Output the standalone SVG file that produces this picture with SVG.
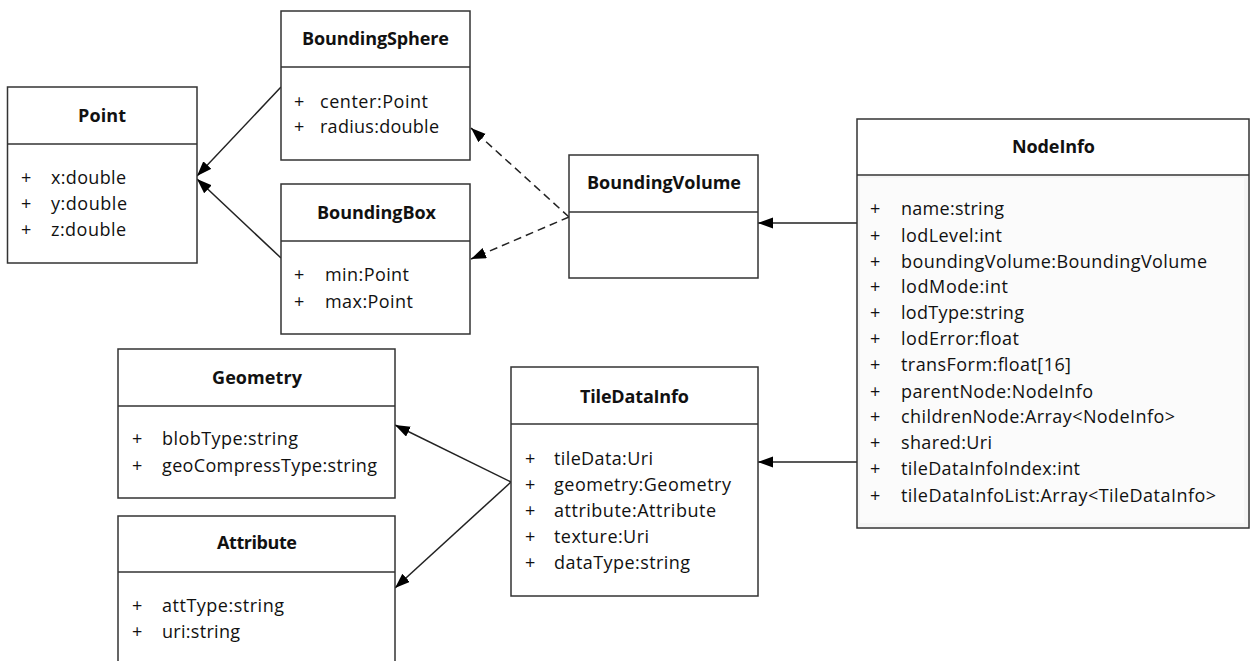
<svg xmlns="http://www.w3.org/2000/svg" width="1250" height="661" viewBox="0 0 1250 661">
<style>
.box{fill:#fff;stroke:#333;stroke-width:1.5}
.div{stroke:#333;stroke-width:1.5}
.t{font-family:"Open Sans","Liberation Sans",sans-serif;font-size:18px;font-weight:bold;fill:#111;text-anchor:middle}
.a{font-family:"Open Sans","Liberation Sans",sans-serif;font-size:18px;fill:#111}
.c{fill:none;stroke:#222;stroke-width:1.5}
.d{stroke-dasharray:8,5}
</style>
<defs>
<marker id="ah" markerUnits="userSpaceOnUse" markerWidth="16" markerHeight="12" refX="15" refY="5.5" orient="auto">
<path d="M0,0 L15,5.5 L0,11 z" fill="#000" stroke="none"/>
</marker>
</defs>
<rect width="1250" height="661" fill="#fff"/>
<g id="connectors">
<line class="c" x1="281" y1="87" x2="197" y2="176" marker-end="url(#ah)"/>
<line class="c" x1="281" y1="258" x2="197" y2="179" marker-end="url(#ah)"/>
<line class="c d" x1="569" y1="217" x2="471" y2="128" marker-end="url(#ah)"/>
<line class="c d" x1="569" y1="217" x2="471" y2="259" marker-end="url(#ah)"/>
<line class="c" x1="857" y1="223" x2="758" y2="223" marker-end="url(#ah)"/>
<line class="c" x1="857" y1="462" x2="758" y2="462" marker-end="url(#ah)"/>
<line class="c" x1="511" y1="482" x2="395" y2="425" marker-end="url(#ah)"/>
<line class="c" x1="511" y1="482" x2="395" y2="588" marker-end="url(#ah)"/>
</g>
<g id="Point">
<rect class="box" x="7.5" y="87" width="189.5" height="176"/>
<line class="div" x1="7.5" y1="144" x2="197" y2="144"/>
<text class="t" x="102" y="122" textLength="48">Point</text>
<text class="a" x="21" y="184">+</text><text class="a" x="51" y="184" textLength="75">x:double</text>
<text class="a" x="21" y="210">+</text><text class="a" x="51" y="210" textLength="76">y:double</text>
<text class="a" x="21" y="236">+</text><text class="a" x="51" y="236" textLength="75">z:double</text>
</g>
<g id="BoundingSphere">
<rect class="box" x="281" y="11" width="189" height="149"/>
<line class="div" x1="281" y1="67" x2="470" y2="67"/>
<text class="t" x="375.5" y="45" textLength="147">BoundingSphere</text>
<text class="a" x="294" y="108">+</text><text class="a" x="320" y="108" textLength="108">center:Point</text>
<text class="a" x="294" y="133">+</text><text class="a" x="320" y="133" textLength="119">radius:double</text>
</g>
<g id="BoundingBox">
<rect class="box" x="281" y="184" width="189" height="150"/>
<line class="div" x1="281" y1="241" x2="470" y2="241"/>
<text class="t" x="376.5" y="219" textLength="119">BoundingBox</text>
<text class="a" x="294" y="281">+</text><text class="a" x="325" y="281" textLength="84">min:Point</text>
<text class="a" x="294" y="308">+</text><text class="a" x="325" y="308" textLength="88">max:Point</text>
</g>
<g id="BoundingVolume">
<rect class="box" x="569" y="155" width="189" height="123"/>
<line class="div" x1="569" y1="212" x2="758" y2="212"/>
<text class="t" x="664" y="189" textLength="154">BoundingVolume</text>
</g>
<g id="NodeInfo">
<rect class="box" x="857" y="119" width="392" height="409"/>
<rect x="858" y="176" width="390" height="351" fill="#f5f5f5"/>
<rect x="860" y="178" width="384" height="345" fill="#fbfbfb"/>
<line class="div" x1="857" y1="175" x2="1249" y2="175"/>
<text class="t" x="1053.5" y="153" textLength="83">NodeInfo</text>
<text class="a" x="870" y="215">+</text><text class="a" x="901" y="215" textLength="103">name:string</text>
<text class="a" x="870" y="242">+</text><text class="a" x="901" y="242" textLength="101">lodLevel:int</text>
<text class="a" x="870" y="268">+</text><text class="a" x="901" y="268" textLength="306">boundingVolume:BoundingVolume</text>
<text class="a" x="870" y="293">+</text><text class="a" x="901" y="293" textLength="107">lodMode:int</text>
<text class="a" x="870" y="319">+</text><text class="a" x="901" y="319" textLength="123">lodType:string</text>
<text class="a" x="870" y="345">+</text><text class="a" x="901" y="345" textLength="118">lodError:float</text>
<text class="a" x="870" y="371">+</text><text class="a" x="901" y="371" textLength="170">transForm:float[16]</text>
<text class="a" x="870" y="398">+</text><text class="a" x="901" y="398" textLength="192">parentNode:NodeInfo</text>
<text class="a" x="870" y="423">+</text><text class="a" x="901" y="423" textLength="274">childrenNode:Array&lt;NodeInfo&gt;</text>
<text class="a" x="870" y="449">+</text><text class="a" x="901" y="449" textLength="91">shared:Uri</text>
<text class="a" x="870" y="475">+</text><text class="a" x="901" y="475" textLength="179">tileDataInfoIndex:int</text>
<text class="a" x="870" y="502">+</text><text class="a" x="901" y="502" textLength="315">tileDataInfoList:Array&lt;TileDataInfo&gt;</text>
</g>
<g id="Geometry">
<rect class="box" x="118" y="349" width="277" height="149"/>
<line class="div" x1="118" y1="406" x2="395" y2="406"/>
<text class="t" x="257" y="384" textLength="90">Geometry</text>
<text class="a" x="132" y="445">+</text><text class="a" x="162" y="445" textLength="136">blobType:string</text>
<text class="a" x="132" y="472">+</text><text class="a" x="162" y="472" textLength="215">geoCompressType:string</text>
</g>
<g id="Attribute">
<rect class="box" x="118" y="516" width="277" height="190"/>
<line class="div" x1="118" y1="572" x2="395" y2="572"/>
<text class="t" x="257" y="549" textLength="80">Attribute</text>
<text class="a" x="132" y="612">+</text><text class="a" x="162" y="612" textLength="122">attType:string</text>
<text class="a" x="132" y="638">+</text><text class="a" x="162" y="638" textLength="78">uri:string</text>
</g>
<g id="TileDataInfo">
<rect class="box" x="511" y="367" width="247" height="229"/>
<line class="div" x1="511" y1="424" x2="758" y2="424"/>
<text class="t" x="634.5" y="403" textLength="109">TileDataInfo</text>
<text class="a" x="525" y="465">+</text><text class="a" x="554" y="465" textLength="99">tileData:Uri</text>
<text class="a" x="525" y="491">+</text><text class="a" x="554" y="491" textLength="177">geometry:Geometry</text>
<text class="a" x="525" y="517">+</text><text class="a" x="554" y="517" textLength="162">attribute:Attribute</text>
<text class="a" x="525" y="543">+</text><text class="a" x="554" y="543" textLength="95">texture:Uri</text>
<text class="a" x="525" y="569">+</text><text class="a" x="554" y="569" textLength="136">dataType:string</text>
</g>
</svg>
